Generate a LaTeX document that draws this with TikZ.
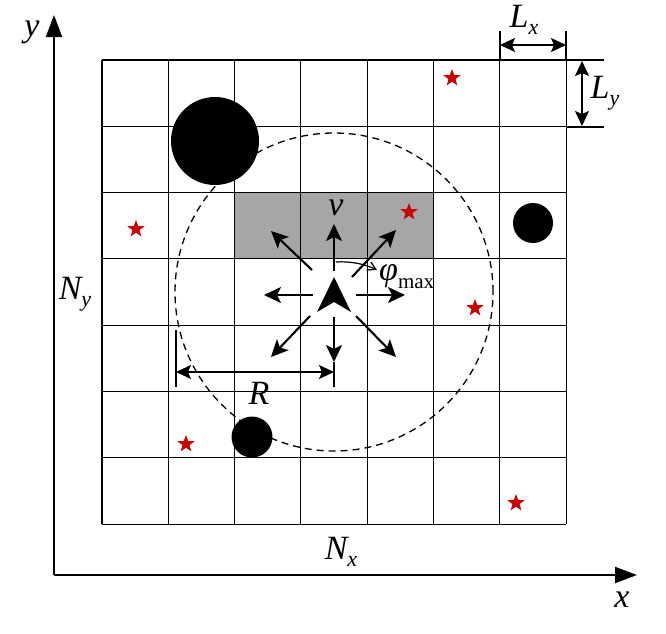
\documentclass[tikz,border=0pt]{standalone}
\usepackage{fontspec}
\setmainfont{Liberation Serif}
\usetikzlibrary{arrows.meta,shapes.geometric}
\definecolor{starred}{RGB}{200,0,0}
\definecolor{cellgray}{RGB}{166,166,166}
\tikzset{
  lab/.style={font=\fontsize{34}{36}\selectfont\itshape, inner sep=0pt},
  gridline/.style={line width=1.1pt},
  tick/.style={line width=2.4pt},
  dir/.style={line width=2.1pt,-{Stealth[length=17pt,width=16pt,inset=4pt]}},
  dim/.style={line width=1.6pt,{Stealth[length=15pt,width=14pt,inset=3pt]}-{Stealth[length=15pt,width=14pt,inset=3pt]}},
  axis/.style={line width=2pt,-{Triangle[length=22pt,width=16pt]}},
  obst/.style={circle,fill=black,inner sep=0pt},
  goal/.style={star,star points=5,star point ratio=2.4,fill=starred,inner sep=0pt,minimum size=18pt}
}
\begin{document}
\begin{tikzpicture}[x=1pt,y=-1pt]
\useasboundingbox (0,0) rectangle (666,633);
% gray cells
\fill[cellgray] (235,193) rectangle (433,259);
% grid
\foreach \i in {0,...,7}{
  \draw[gridline] (102+66.3*\i,60) -- (102+66.3*\i,524);
  \draw[gridline] (102,60+66.3*\i) -- (566,60+66.3*\i);
}
% dashed circle
\node[circle,draw,dashed,dash pattern=on 7pt off 5pt,line width=1.3pt,minimum size=318pt,inner sep=0pt] (range) at (334,292) {};
% obstacles
\node[obst,minimum size=88pt] (o1) at (215,141) {};
\node[obst,minimum size=40pt] (o2) at (533,223) {};
\node[obst,minimum size=41pt] (o3) at (252,437) {};
% goals
\node[goal] (g1) at (452,78) {};
\node[goal] (g2) at (136,229) {};
\node[goal] (g3) at (409,212) {};
\node[goal] (g4) at (475,308) {};
\node[goal] (g5) at (186,444) {};
\node[goal] (g6) at (516,503) {};
% agent
\coordinate (c) at (334,295);
\fill (334,277) -- (351,312) -- (334,302) -- (317,312) -- cycle;
% direction arrows
\coordinate (u0) at (334,271); \coordinate (u1) at (334,224);
\coordinate (l0) at (313,295); \coordinate (l1) at (264,295);
\coordinate (r0) at (356,295); \coordinate (r1) at (405,295);
\coordinate (d0) at (334,317); \coordinate (d1) at (334,362);
\coordinate (ul0) at (312,270); \coordinate (ul1) at (271,231);
\coordinate (ur0) at (352,277); \coordinate (ur1) at (396,230);
\coordinate (dl0) at (310,316); \coordinate (dl1) at (271,357);
\coordinate (dr0) at (356,316); \coordinate (dr1) at (396,357);
\foreach \a in {u,l,r,d,ul,ur,dl,dr}{\draw[dir] (\a0) -- (\a1);}
\node[lab] (v) at (336,208) {v};
% phi max
\coordinate (p0) at (336,262); \coordinate (p1) at (377,270);
\draw[line width=1.2pt,-{Straight Barb[length=8pt,width=9pt]}] (p0) .. controls (350,261) and (365,264) .. (p1);
\node[lab,anchor=west] (phi) at (379,277) {φ\raisebox{-8pt}{\fontsize{21}{24}\selectfont\upshape max}};
% R dimension
\coordinate (rl0) at (176,330); \coordinate (rl1) at (176,387);
\coordinate (rr1) at (334,387);
\draw[line width=1.4pt] (rl0) -- (rl1);
\draw[line width=1.4pt] (d1) -- (rr1);
\coordinate (ra) at (176,372); \coordinate (rb) at (334,372);
\draw[dim] (ra) -- (rb);
\node[lab] (R) at (259,393) {R};
% Lx
\coordinate (lx0) at (500,31); \coordinate (lx1) at (566,31);
\draw[tick] (lx0) -- (500,60);
\draw[tick] (lx1) -- (566,60);
\draw[dim] (500,45) -- (566,45);
\node[lab] (Lx) at (524,20) {L\raisebox{-7pt}{\fontsize{22}{24}\selectfont x}};
% Ly
\coordinate (ly0) at (604,60); \coordinate (ly1) at (604,127);
\draw[tick] (566,60) -- (ly0);
\draw[tick] (566,127) -- (ly1);
\draw[dim] (582,61) -- (582,126);
\node[lab] (Ly) at (605,93) {L\raisebox{-7pt}{\fontsize{22}{24}\selectfont y}};
% axes
\coordinate (O) at (54,575);
\coordinate (ytop) at (54,15);
\coordinate (xend) at (637,575);
\draw[axis] (O) -- (ytop);
\draw[axis] (O) -- (xend);
\node[lab] (ylab) at (32,32) {y};
\node[lab] (xlab) at (622,600) {x};
\node[lab] (Nx) at (341,552) {N\raisebox{-7pt}{\fontsize{22}{24}\selectfont x}};
\node[lab] (Ny) at (75,294) {N\raisebox{-7pt}{\fontsize{22}{24}\selectfont y}};
\end{tikzpicture}
\end{document}
